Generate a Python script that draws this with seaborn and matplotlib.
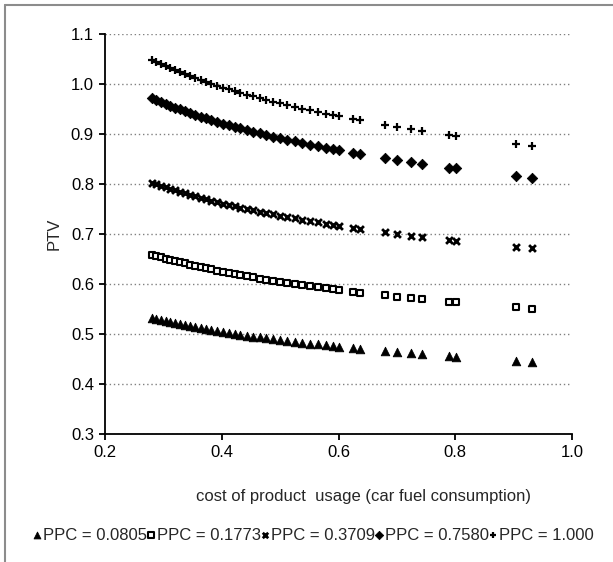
import numpy as np
import pandas as pd
import matplotlib
matplotlib.use("Agg")
import matplotlib.pyplot as plt
import seaborn as sns
from matplotlib.lines import Line2D

sns.set_style("white")
plt.rcParams['font.family'] = ['Liberation Sans', 'DejaVu Sans']

# x: cost of product usage (car fuel consumption)
x_vals = [0.280, 0.288, 0.296, 0.304, 0.312, 0.320, 0.328, 0.337, 0.346, 0.355,
          0.364, 0.373, 0.382, 0.392, 0.402, 0.412, 0.422, 0.432, 0.443, 0.454,
          0.465, 0.476, 0.488, 0.500, 0.512, 0.525, 0.538, 0.551, 0.565, 0.579,
          0.590, 0.600, 0.625, 0.637, 0.680, 0.700, 0.724, 0.743, 0.790, 0.801,
          0.904, 0.932]

ptv_0805 = [0.5320, 0.5298, 0.5276, 0.5255, 0.5235, 0.5215, 0.5196, 0.5175, 0.5155, 0.5135,
            0.5116, 0.5097, 0.5079, 0.5060, 0.5041, 0.5022, 0.5005, 0.4987, 0.4968, 0.4950,
            0.4933, 0.4916, 0.4897, 0.4880, 0.4862, 0.4844, 0.4827, 0.4810, 0.4792, 0.4774,
            0.4761, 0.4749, 0.4720, 0.4707, 0.4661, 0.4641, 0.4618, 0.4600, 0.4558, 0.4549,
            0.4468, 0.4447]
ptv_1773 = [0.6590, 0.6562, 0.6536, 0.6510, 0.6485, 0.6460, 0.6436, 0.6411, 0.6385, 0.6361,
            0.6337, 0.6314, 0.6292, 0.6268, 0.6244, 0.6221, 0.6199, 0.6178, 0.6155, 0.6132,
            0.6110, 0.6089, 0.6066, 0.6045, 0.6023, 0.6001, 0.5979, 0.5958, 0.5935, 0.5914,
            0.5897, 0.5883, 0.5847, 0.5830, 0.5774, 0.5749, 0.5720, 0.5698, 0.5646, 0.5635,
            0.5534, 0.5509]
ptv_3709 = [0.8030, 0.7996, 0.7964, 0.7932, 0.7902, 0.7872, 0.7843, 0.7811, 0.7781, 0.7751,
            0.7722, 0.7694, 0.7667, 0.7637, 0.7609, 0.7581, 0.7554, 0.7528, 0.7499, 0.7472,
            0.7445, 0.7420, 0.7392, 0.7365, 0.7339, 0.7312, 0.7285, 0.7260, 0.7232, 0.7206,
            0.7186, 0.7168, 0.7125, 0.7104, 0.7036, 0.7005, 0.6970, 0.6943, 0.6880, 0.6866,
            0.6743, 0.6713]
ptv_7580 = [0.9720, 0.9679, 0.9640, 0.9602, 0.9564, 0.9528, 0.9494, 0.9455, 0.9418, 0.9382,
            0.9347, 0.9313, 0.9280, 0.9245, 0.9210, 0.9176, 0.9144, 0.9112, 0.9078, 0.9045,
            0.9012, 0.8981, 0.8948, 0.8915, 0.8884, 0.8851, 0.8819, 0.8787, 0.8755, 0.8723,
            0.8698, 0.8677, 0.8624, 0.8600, 0.8516, 0.8480, 0.8437, 0.8405, 0.8328, 0.8311,
            0.8162, 0.8126]
ptv_1000 = [1.0480, 1.0436, 1.0394, 1.0352, 1.0312, 1.0274, 1.0236, 1.0195, 1.0155, 1.0116,
            1.0078, 1.0042, 1.0006, 0.9968, 0.9930, 0.9894, 0.9859, 0.9824, 0.9787, 0.9752,
            0.9717, 0.9683, 0.9647, 0.9613, 0.9579, 0.9543, 0.9508, 0.9474, 0.9439, 0.9405,
            0.9378, 0.9355, 0.9298, 0.9272, 0.9182, 0.9143, 0.9097, 0.9062, 0.8979, 0.8961,
            0.8801, 0.8761]

series_labels = ["PPC = 0.0805", "PPC = 0.1773", "PPC = 0.3709", "PPC = 0.7580", "PPC = 1.000"]
series_values = [ptv_0805, ptv_1773, ptv_3709, ptv_7580, ptv_1000]

y_ticks = [0.3, 0.4, 0.5, 0.6, 0.7, 0.8, 0.9, 1.0, 1.1]
x_ticks = [0.2, 0.4, 0.6, 0.8, 1.0]

styles = [
    dict(marker='^', s=38, color='black', edgecolor='black', linewidth=0.6),
    dict(marker='s', s=24, facecolor='white', edgecolor='black', linewidth=1.5),
    dict(marker='x', s=24, color='black', linewidth=2.0),
    dict(marker='D', s=28, color='black', edgecolor='black', linewidth=0.6),
    dict(marker='+', s=26, color='black', linewidth=1.6),
]

FS = 12

fig = plt.figure(figsize=(6.13, 5.62), dpi=100)
ax = fig.add_axes([105/613, 1-434/562, (572-105)/613, (434-34)/562])

for lab, vals, st in zip(series_labels, series_values, styles):
    df = pd.DataFrame({"x": x_vals, "y": vals})
    sns.scatterplot(data=df, x="x", y="y", ax=ax, label=lab, zorder=3, **st)

ax.set_xlim(0.2, 1.0)
ax.set_ylim(0.3, 1.1)
ax.set_xticks(x_ticks)
ax.set_yticks(y_ticks)
ax.set_xticklabels([f"{t:.1f}" for t in x_ticks], fontsize=FS)
ax.set_yticklabels([f"{t:.1f}" for t in y_ticks], fontsize=FS)
ax.yaxis.grid(True, linestyle=(0, (1, 2)), color='#808080', linewidth=1.0, zorder=0)
ax.xaxis.grid(False)
for sp in ['top', 'right']:
    ax.spines[sp].set_visible(False)
for sp in ['left', 'bottom']:
    ax.spines[sp].set_color('black')
    ax.spines[sp].set_linewidth(1.3)
ax.tick_params(axis='both', direction='out', length=4, width=1.3, color='black',
               labelcolor='black', left=True, bottom=True, pad=4)
ax.set_xlabel("cost of product  usage (car fuel consumption)", fontsize=FS)
ax.set_ylabel("PTV", fontsize=FS)
ax.xaxis.set_label_coords((364 - 105) / 467, (434 - 489) / 400)
ax.yaxis.set_label_coords((62 - 105) / 467, 0.5)

leg = ax.legend(loc='center', bbox_to_anchor=(313/613, 1-535/562), bbox_transform=fig.transFigure,
                ncol=5, frameon=False, fontsize=FS, handlelength=0.5, handletextpad=0.1,
                columnspacing=0.0, markerscale=0.8, borderaxespad=0, borderpad=0)

# outer frame: only left and top edges visible (image is cropped)
fig.lines.append(Line2D([4.5/613, 4.5/613], [0, 1-5/562], transform=fig.transFigure,
                        color='#8c8c8c', linewidth=1.5))
fig.lines.append(Line2D([4.5/613, 1], [1-5/562, 1-5/562], transform=fig.transFigure,
                        color='#8c8c8c', linewidth=1.5))

fig.savefig("out.png", dpi=100)
